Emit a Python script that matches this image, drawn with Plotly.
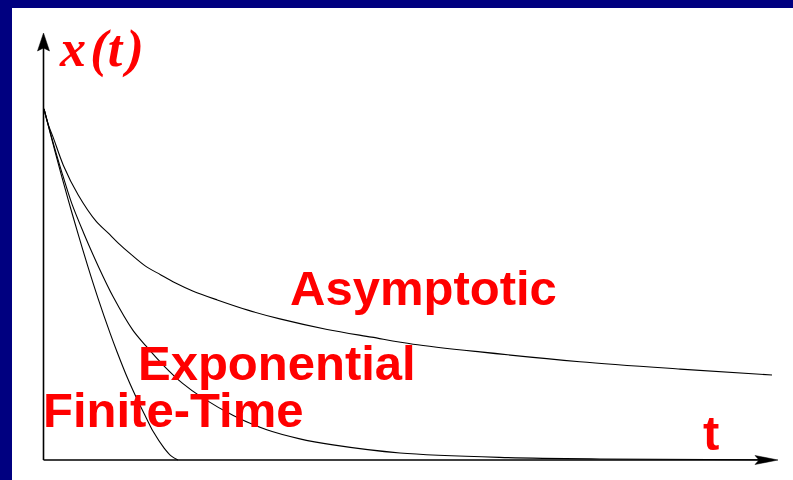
import plotly.graph_objects as go

# ---- data (t in arbitrary units, x(t) normalised to x(0)=1) ----
asym_t = [0, 0.06, 0.13, 0.265, 0.47, 0.72, 0.88, 1.02, 1.20, 1.39, 1.60, 1.80, 2.05, 2.38, 2.80,
          3.24, 3.89, 4.50, 5.07, 5.99, 7.36, 8.74, 10.0]
asym_x = [1.0, 0.955, 0.917, 0.840, 0.755, 0.679, 0.647, 0.618, 0.585, 0.553, 0.528, 0.505, 0.481, 0.456, 0.427,
          0.402, 0.372, 0.350, 0.330, 0.308, 0.280, 0.259, 0.242]

expo_t = [0, 0.10, 0.243, 0.381, 0.54, 0.75, 0.95, 1.22, 1.40, 1.63, 1.90, 2.18, 2.60, 3.06, 3.50, 3.97,
          4.89, 6.26, 7.64, 10.0]
expo_x = [1.0, 0.923, 0.821, 0.731, 0.649, 0.550, 0.465, 0.370, 0.325, 0.272, 0.219, 0.177, 0.127, 0.086, 0.061, 0.043,
          0.020, 0.0075, 0.003, 0.0005]

fin_t = [0, 0.15, 0.33, 0.47, 0.60, 0.74, 0.91, 1.00, 1.15, 1.29, 1.40, 1.50, 1.65, 1.75, 1.84]
fin_x = [1.0, 0.880, 0.743, 0.643, 0.553, 0.462, 0.360, 0.310, 0.232, 0.168, 0.122, 0.081, 0.034, 0.011, 0.0]

labels = ["Asymptotic", "Exponential", "Finite-Time"]
t_label = "t"

# ---- layout geometry (pixels) ----
W, H = 793, 480
ML, MT = 12, 8
PW, PH = W - ML, H - MT
T0PX, T10PX = 44, 772
V0PY, V1PY = 460, 109
sx = (T10PX - T0PX) / 10.0
sy = (V0PY - V1PY) / 1.0
tmin = -(T0PX - ML) / sx
tmax = tmin + PW / sx
vmax = 1 + (V1PY - MT) / sy
vmin = vmax - PH / sy


def X(px):
    return tmin + (px - ML) / sx


def Y(py):
    return vmax - (py - MT) / sy


fig = go.Figure()
for tt, xx in [(asym_t, asym_x), (expo_t, expo_x), (fin_t, fin_x)]:
    fig.add_trace(go.Scatter(x=tt, y=xx, mode="lines",
                             line=dict(color="black", width=1.1, shape="spline", smoothing=0.9),
                             hoverinfo="skip", showlegend=False))

shapes = [
    # axes
    dict(type="line", x0=X(43.5), x1=X(43.5), y0=Y(460), y1=Y(45), line=dict(color="black", width=1.6)),
    dict(type="line", x0=X(43.5), x1=X(765), y0=Y(460), y1=Y(460), line=dict(color="black", width=1.6)),
    # arrow heads
    dict(type="path",
         path=f"M {X(43.5)},{Y(33)} L {X(37.5)},{Y(51)} L {X(43.5)},{Y(48)} L {X(49.5)},{Y(51)} Z",
         fillcolor="black", line=dict(color="black", width=0.5)),
    dict(type="path",
         path=f"M {X(778)},{Y(460)} L {X(755)},{Y(455.5)} L {X(759)},{Y(460)} L {X(755)},{Y(464.5)} Z",
         fillcolor="black", line=dict(color="black", width=0.5)),
]

red = "#ff0000"
sans = dict(family="Liberation Sans, Arial, sans-serif", size=49, color=red, weight="bold")
ann = [
    dict(x=X(288), y=Y(287.5), text=labels[0], xanchor="left", yanchor="middle", font=sans),
    dict(x=X(136), y=Y(362.5), text=labels[1], xanchor="left", yanchor="middle", font=sans),
    dict(x=X(41), y=Y(409.5), text=labels[2], xanchor="left", yanchor="middle", font=sans),
    dict(x=X(711), y=Y(433), text=t_label, xanchor="center", yanchor="middle", font=sans),
    dict(x=X(57), y=Y(49), text="<i>x\u200a(t\u200a)</i>", xanchor="left", yanchor="middle",
         font=dict(family="Liberation Serif, Times New Roman, serif", size=52, color=red, weight="bold")),
]
for a in ann:
    a.update(xref="x", yref="y", showarrow=False)

fig.update_layout(
    width=W, height=H,
    margin=dict(l=ML, r=0, t=MT, b=0, pad=0),
    paper_bgcolor="#000080", plot_bgcolor="white",
    xaxis=dict(range=[tmin, tmax], visible=False, fixedrange=True),
    yaxis=dict(range=[vmin, vmax], visible=False, fixedrange=True),
    shapes=shapes, annotations=ann, showlegend=False,
)
fig.write_html("out.html", config={"displayModeBar": False},
               post_script="document.body.style.margin='0';document.body.style.overflow='hidden';")
